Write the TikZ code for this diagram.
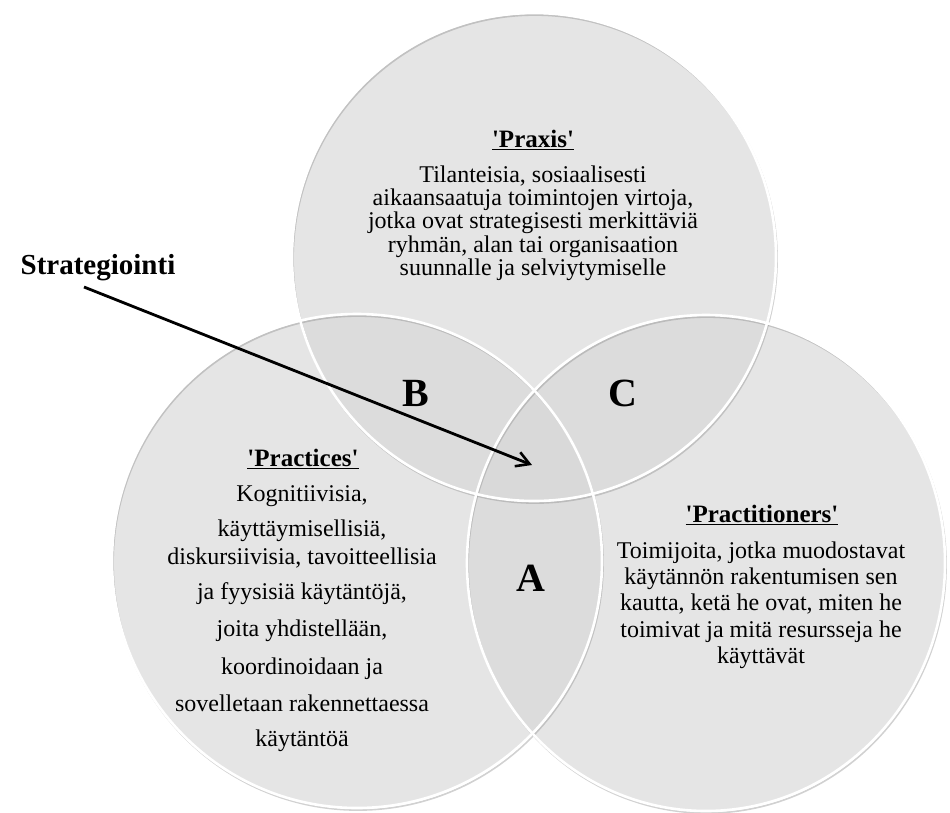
\documentclass[tikz,border=0pt]{standalone}
\usepackage{fontspec}
\setmainfont{Liberation Serif}[Ligatures=TeXOff]
\usetikzlibrary{arrows.meta}
\begin{document}
\begin{tikzpicture}[x=1pt,y=-1pt,
  vfill/.style={fill={rgb,255:red,215;green,215;blue,215}, fill opacity=0.65},
  vshadow/.style={draw=black!45, line width=1.8pt, opacity=0.4},
  vrim/.style={draw=white, line width=2.6pt},
  head/.style={font=\fontsize{25}{25}\selectfont\bfseries, inner sep=0pt},
  body/.style={font=\fontsize{24}{23.3}\selectfont, align=center, inner sep=0pt},
  letter/.style={font=\fontsize{40}{40}\selectfont\bfseries, inner sep=0pt},
  arr/.style={line width=2.8pt, -{Straight Barb[length=13pt,width=15pt,line width=2.6pt]}}]
\useasboundingbox (0,0) rectangle (950,812);
% circle fills
\fill[vfill] (534,257) ellipse [x radius=242pt, y radius=244pt];
\fill[vfill] (357,561) ellipse [x radius=245pt, y radius=247pt];
\fill[vfill] (706,563) ellipse [x radius=239pt, y radius=248pt];
% soft shadows
\draw[vshadow] (535,259) ellipse [x radius=242pt, y radius=244pt];
\draw[vshadow] (358,563) ellipse [x radius=245pt, y radius=247pt];
\draw[vshadow] (707,565) ellipse [x radius=239pt, y radius=248pt];
% white rims
\draw[vrim] (534,257) ellipse [x radius=242pt, y radius=244pt];
\draw[vrim] (357,561) ellipse [x radius=245pt, y radius=247pt];
\draw[vrim] (706,563) ellipse [x radius=239pt, y radius=248pt];
% texts
\node[head] (praxh) at (533,140) {\underline{'Praxis'}};
\node[body] (praxb) at (533,223) {Tilanteisia, sosiaalisesti\\aikaansaatuja toimintojen virtoja,\\jotka ovat strategisesti merkittäviä\\ryhmän, alan tai organisaation\\suunnalle ja selviytymiselle};
\node[head] (prach) at (303,459) {\underline{'Practices'}};
\node[body, font=\fontsize{24}{28}\selectfont] (pracb) at (302,619) {Kognitiivisia,\\[7pt]käyttäymisellisiä,\\diskursiivisia, tavoitteellisia\\[7pt]ja fyysisiä käytäntöjä,\\[9pt]joita yhdistellään,\\[10pt]koordinoidaan ja\\[9pt]sovelletaan rakennettaessa\\[7pt]käytäntöä};
\node[head] (pracrh) at (762,515) {\underline{'Practitioners'}};
\node[body, font=\fontsize{24}{26.3}\selectfont] (pracrb) at (761,605) {Toimijoita, jotka muodostavat\\käytännön rakentumisen sen\\kautta, ketä he ovat, miten he\\toimivat ja mitä resursseja he\\käyttävät};
\node[letter] (lA) at (531,578) {A};
\node[letter] (lB) at (416,393) {B};
\node[letter] (lC) at (623,393) {C};
\node[font=\fontsize{29}{29}\selectfont\bfseries, inner sep=0pt, anchor=base] (strat) at (98,274) {Strategiointi};
\coordinate (a0) at (84,287);
\coordinate (a1) at (532,465);
\draw[arr] (a0) -- (a1);
\end{tikzpicture}
\end{document}
